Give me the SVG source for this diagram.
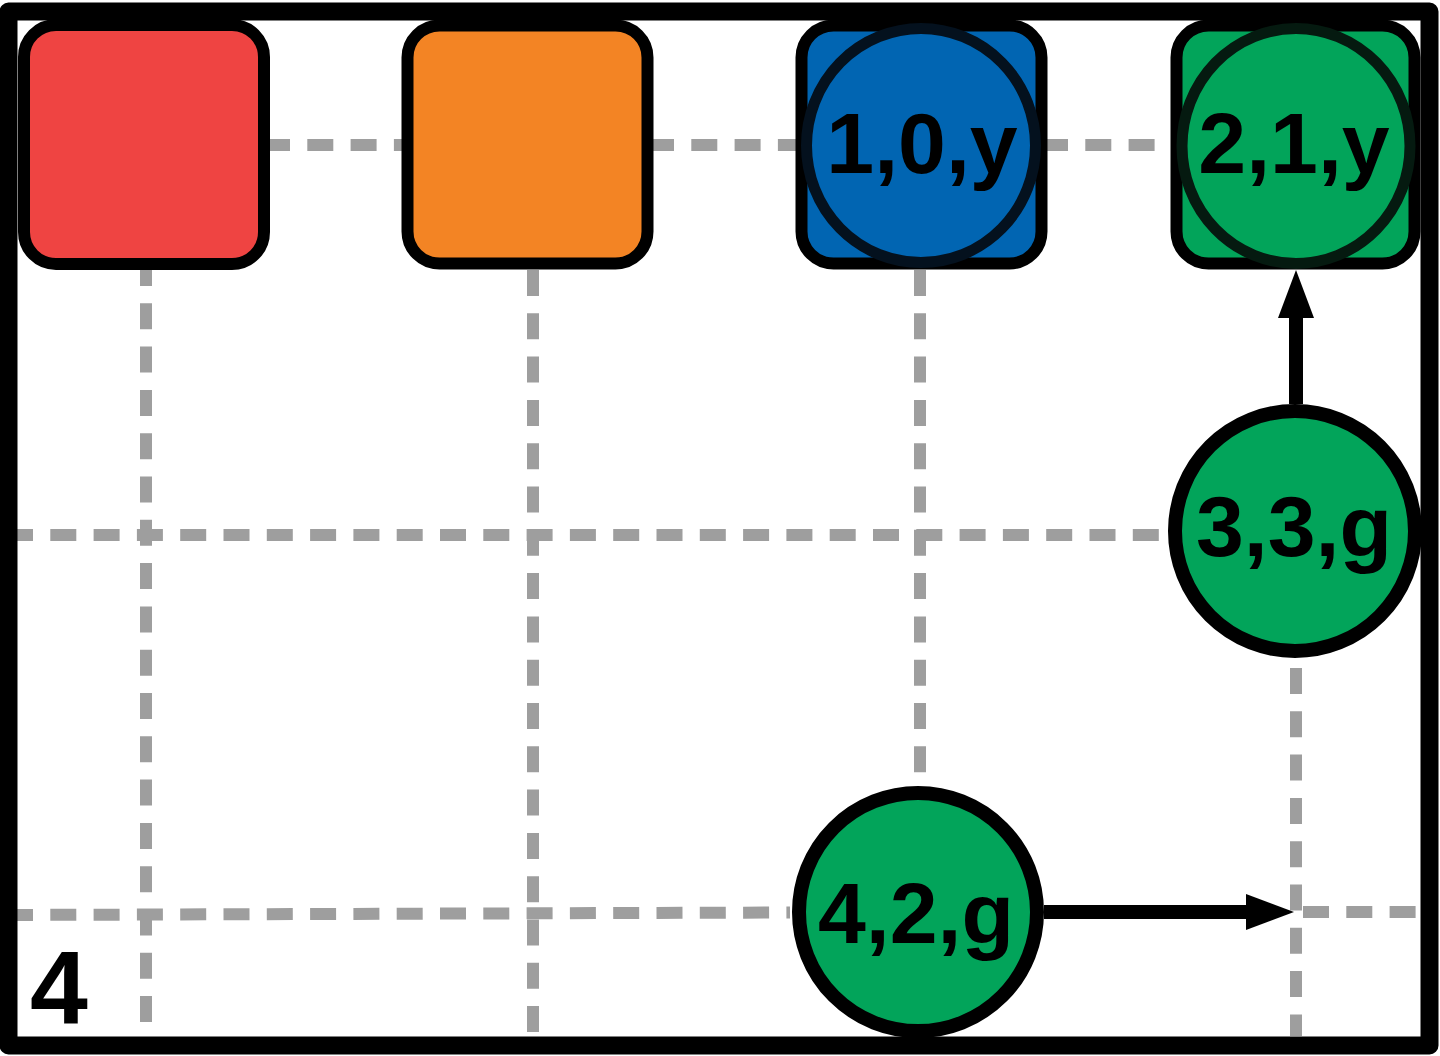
<svg xmlns="http://www.w3.org/2000/svg" width="1440" height="1056" viewBox="0 0 1440 1056">
  <style>
    .grid { stroke: #9e9e9e; stroke-width: 12; stroke-dasharray: 26 17.3; fill: none; }
    .sq { stroke: #000; stroke-width: 12; }
    .ring { stroke-width: 11; }
    .big { stroke: #000; stroke-width: 14; }
    .lbl { font-family: "Liberation Sans", Arial, sans-serif; font-weight: bold; font-size: 86px; fill: #000; text-anchor: middle; }
    .conn { stroke: #000; stroke-width: 14; fill: none; }
  </style>
  <defs>
    <marker id="ah" markerUnits="userSpaceOnUse" markerWidth="48" markerHeight="36" refX="0" refY="18" orient="auto">
      <path d="M0,0 L48,18 L0,36 Z" fill="#000"/>
    </marker>
  </defs>
  <rect x="0" y="0" width="1440" height="1056" fill="#fff"/>
  <g id="grid">
    <line class="grid" x1="264" y1="145" x2="407" y2="145"/>
    <line class="grid" x1="648" y1="145" x2="801" y2="145"/>
    <line class="grid" x1="1042" y1="145" x2="1176" y2="145"/>
    <line class="grid" x1="7" y1="535" x2="1168" y2="535"/>
    <line class="grid" x1="7" y1="915" x2="790" y2="912.5"/>
    <line class="grid" x1="1303" y1="912" x2="1422" y2="912"/>
    <line class="grid" x1="146" y1="260" x2="146" y2="1036"/>
    <line class="grid" x1="533" y1="270" x2="533" y2="1036"/>
    <line class="grid" x1="920" y1="270" x2="920" y2="790"/>
    <line class="grid" x1="1296" y1="668" x2="1296" y2="1036"/>
  </g>
  <g id="node-red">
    <rect class="sq" x="24" y="25" width="240" height="239" rx="32" fill="#ef4442"/>
  </g>
  <g id="node-orange">
    <rect class="sq" x="407.5" y="25.5" width="240" height="238" rx="32" fill="#f38424"/>
  </g>
  <g id="node-1-0-y">
    <rect class="sq" x="801.5" y="25.5" width="240" height="238" rx="32" fill="#0165b2"/>
    <ellipse class="ring" cx="921" cy="145.5" rx="114.5" ry="117" fill="#0165b2" stroke="#04111e"/>
    <text class="lbl" x="922" y="173">1,0,y</text>
  </g>
  <g id="node-2-1-y">
    <rect class="sq" x="1176.5" y="25.5" width="238" height="238" rx="32" fill="#02a45a"/>
    <ellipse class="ring" cx="1296" cy="146" rx="114" ry="117.5" fill="#02a45a" stroke="#051a10"/>
    <text class="lbl" x="1294" y="173">2,1,y</text>
  </g>
  <g id="node-3-3-g">
    <circle class="big" cx="1295" cy="531" r="120" fill="#02a45a"/>
    <text class="lbl" x="1294" y="556">3,3,g</text>
  </g>
  <g id="node-4-2-g">
    <circle class="big" cx="918" cy="912" r="119" fill="#02a45a"/>
    <text class="lbl" x="916" y="943">4,2,g</text>
  </g>
  <g id="connectors">
    <line class="conn" x1="1296" y1="404" x2="1296" y2="318" marker-end="url(#ah)"/>
    <line class="conn" x1="1044" y1="912" x2="1246" y2="912" marker-end="url(#ah)"/>
  </g>
  <text x="59" y="1024" font-family="Liberation Sans, Arial, sans-serif" font-weight="bold" font-size="104" text-anchor="middle" fill="#000">4</text>
  <rect x="8.5" y="11.5" width="1421" height="1034" fill="none" stroke="#000" stroke-width="18" stroke-linejoin="round"/>
</svg>
